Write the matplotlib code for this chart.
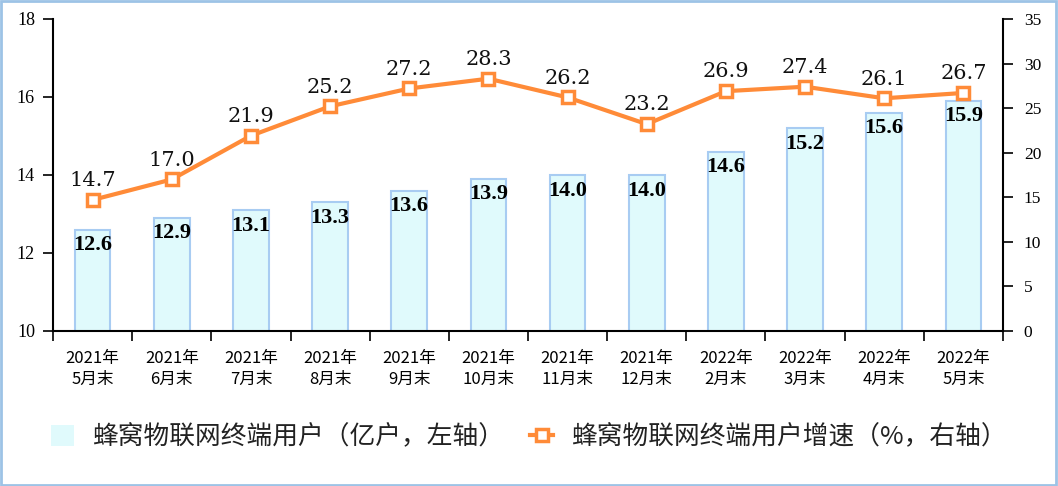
import numpy as np
import matplotlib
matplotlib.use('Agg')
import matplotlib.pyplot as plt
from matplotlib.patches import Rectangle

plt.rcParams['font.family'] = ['Noto Sans CJK SC', 'DejaVu Sans']

months = ['2021年\n5月末', '2021年\n6月末', '2021年\n7月末', '2021年\n8月末',
          '2021年\n9月末', '2021年\n10月末', '2021年\n11月末', '2021年\n12月末',
          '2022年\n2月末', '2022年\n3月末', '2022年\n4月末', '2022年\n5月末']
users = [12.6, 12.9, 13.1, 13.3, 13.6, 13.9, 14.0, 14.0, 14.6, 15.2, 15.6, 15.9]
growth = [14.7, 17.0, 21.9, 25.2, 27.2, 28.3, 26.2, 23.2, 26.9, 27.4, 26.1, 26.7]

bar_face = '#E0FAFC'
bar_edge = '#A8CCF2'
orange = '#FF8B38'
serif = 'Liberation Serif'

fig = plt.figure(figsize=(10.58, 4.86), dpi=100)
ax = fig.add_axes([0.0501, 0.319, 0.8979, 0.642])
ax2 = ax.twinx()

x = np.arange(len(months))
bars = ax.bar(x, users, width=0.45, color=bar_face, edgecolor=bar_edge,
              linewidth=1.5, label='蜂窝物联网终端用户（亿户，左轴）', zorder=2)
line, = ax2.plot(x, growth, color=orange, linewidth=3, marker='s',
                 markersize=8, markerfacecolor='white', markeredgecolor=orange,
                 markeredgewidth=2.5, label='蜂窝物联网终端用户增速（%，右轴）',
                 zorder=3)

# value labels
for xi, v in zip(x, users):
    ax.annotate(f'{v:.1f}', (xi, v), xytext=(0, -4), textcoords='offset points',
                ha='center', va='top', fontsize=16, fontweight='bold',
                family=serif, zorder=4)
for xi, v in zip(x, growth):
    ax2.annotate(f'{v:.1f}', (xi, v), xytext=(0, 7), textcoords='offset points',
                 ha='center', va='bottom', fontsize=15, family='DejaVu Serif',
                 color='#111111')

ax.set_xlim(-0.5, len(months) - 0.5)
ax.set_ylim(10, 18)
ax.set_yticks([10, 12, 14, 16, 18])
ax2.set_ylim(0, 35)
ax2.set_yticks(np.arange(0, 36, 5))

ax.set_xticks(np.arange(-0.5, len(months), 1))
ax.set_xticklabels([])
ax.set_xticks(x, minor=True)
ax.set_xticklabels(months, minor=True, fontsize=12, linespacing=1.3)
ax.tick_params(axis='x', which='major', length=7, width=1.2, direction='out')
ax.tick_params(axis='x', which='minor', length=0, pad=14)

for lab in ax.get_yticklabels():
    lab.set_family(serif)
    lab.set_fontsize(13)
for lab in ax2.get_yticklabels():
    lab.set_family(serif)
    lab.set_fontsize(12.5)
ax.tick_params(axis='y', length=7, width=1.2, pad=6)
ax2.tick_params(axis='y', length=7, width=1.2, pad=8)

for a in (ax, ax2):
    a.spines['top'].set_visible(False)
    for s in ('left', 'right', 'bottom'):
        a.spines[s].set_linewidth(1.5)
ax2.spines['left'].set_visible(False)
ax2.spines['bottom'].set_visible(False)
ax.spines['right'].set_visible(False)

leg = fig.legend([bars, line], [bars.get_label(), line.get_label()],
                 loc='center', bbox_to_anchor=(0.5, 0.1), ncol=2, frameon=False,
                 fontsize=18.5, handlelength=0.9, handleheight=0.9,
                 columnspacing=1.0, handletextpad=0.7)
leg.legend_handles[0].set_edgecolor('none')
for t in leg.get_texts():
    t.set_color('#222222')

fig.patches.append(Rectangle((0.001, 0.002), 0.997, 0.995, transform=fig.transFigure,
                             fill=False, edgecolor='#9DC3E6', linewidth=2))

fig.savefig('out.png', dpi=100)
